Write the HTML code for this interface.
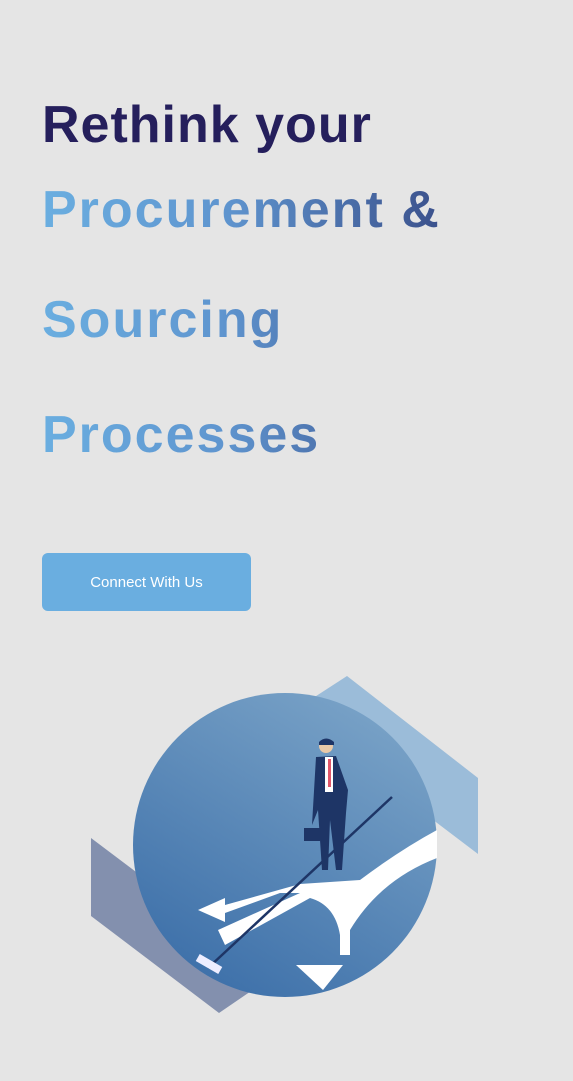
<!DOCTYPE html>
<html><head><style>
body{margin:0;width:573px;height:1081px;background:#e5e5e5;position:relative;overflow:hidden;font-family:"Liberation Sans",sans-serif}
.t{position:absolute;left:42px;font-weight:bold;font-size:52px;line-height:60px;white-space:nowrap;letter-spacing:2px}
.g{background:linear-gradient(90deg,#6aaee0 0%,#5f95cf 45%,#3a4f8a 100%);-webkit-background-clip:text;background-clip:text;color:transparent}
.btn{position:absolute;left:42px;top:553px;width:209px;height:58px;background:#6aaee0;border-radius:6px;color:#fff;font-size:15px;text-align:center;line-height:60px}
</style></head><body>
<div class="t" style="top:95px;color:#251f5c;letter-spacing:1px">Rethink your</div>
<div class="t g" style="top:180px;width:405px">Procurement &amp;</div>
<div class="t g" style="top:290px;width:400px">Sourcing</div>
<div class="t g" style="top:405px;width:400px">Processes</div>
<div class="btn">Connect With Us</div>
<svg style="position:absolute;left:0;top:0" width="573" height="1081">
<defs>
<linearGradient id="c" x1="0.8" y1="0" x2="0.2" y2="1">
<stop offset="0" stop-color="#7ba4c8"/><stop offset="1" stop-color="#3b6ea8"/></linearGradient>
</defs>
<polygon points="91,838 160,890 260,985 219,1013 91,916" fill="#8390ae"/>
<polygon points="310,700 347,676 478,778 478,854 420,810" fill="#9bbcd9"/>
<circle cx="285" cy="845" r="152" fill="url(#c)"/>
<path d="M437,830 L437,858 Q380,880 350,930 L350,955 L340,955 L340,935 Q335,905 310,898 L225,945 L218,930 L300,893 L280,893 L225,913 L225,922 L198,910 L225,898 L225,905 L300,884 L360,880 Q400,850 437,830Z" fill="#fff"/>
<polygon points="296,965 323,990 343,965" fill="#fff"/>
<line x1="392" y1="797" x2="208" y2="968" stroke="#1e3566" stroke-width="2.5"/>
<rect x="196" y="960" width="26" height="8" fill="#eef" transform="rotate(30 209 964)"/>
<circle cx="326" cy="746" r="7" fill="#e9c9a8"/>
<path d="M319,742 Q326,735 334,742 L334,745 L319,745Z" fill="#1e3566"/>
<path d="M316,757 L336,756 L348,790 L346,813 L342,870 L336,870 L330,820 L328,870 L322,870 L318,810 L312,825 Z" fill="#1e3566"/>
<rect x="325" y="757" width="8" height="35" fill="#fff"/>
<rect x="328" y="759" width="3" height="28" fill="#e0566a"/>
<rect x="304" y="828" width="16" height="13" fill="#1e3566"/>
</svg>
</body></html>
